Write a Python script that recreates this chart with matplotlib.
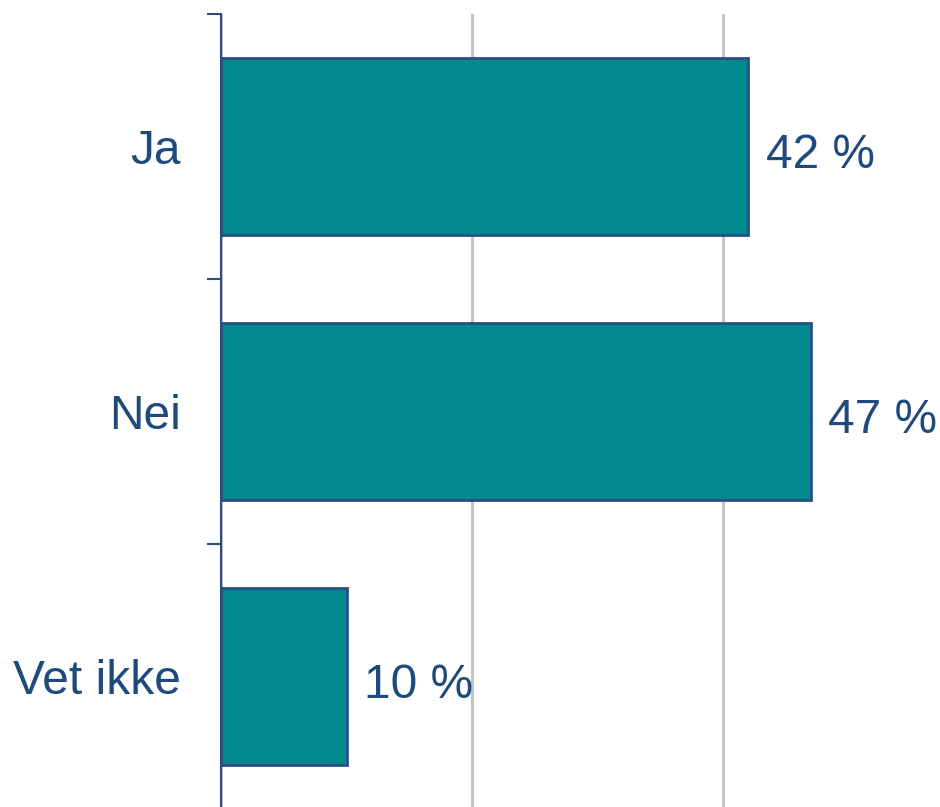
import numpy as np
import matplotlib
matplotlib.use('Agg')
import matplotlib.pyplot as plt
from matplotlib.ticker import FixedLocator

categories = ['Ja', 'Nei', 'Vet ikke']
values = [42, 47, 10]
value_labels = ['42 %', '47 %', '10 %']

plt.rcParams['font.family'] = ['Liberation Sans', 'DejaVu Sans']

text_color = '#1F4A7C'
bar_color = '#008A8F'
edge_color = '#2A4F80'

fig = plt.figure(figsize=(9.4, 8.07), dpi=100)
ax = fig.add_axes([221/940, -2/807, 719/940, 795/807])

y = np.arange(len(categories))
ax.barh(y, values, height=0.67, color=bar_color, edgecolor=edge_color,
        linewidth=2, zorder=3)

for yi, v, lab in zip(y, values, value_labels):
    ax.text(v + 1.4, yi + 0.015, lab, va='center_baseline', ha='left',
            fontsize=34.5, color=text_color)

ax.set_xlim(0, 719/12.55)
ax.set_ylim(2.5, -0.5)

ax.set_xticks([0, 20, 40])
ax.xaxis.grid(True, color='#C4C4C4', linewidth=2.2, zorder=0)
ax.tick_params(axis='x', length=0, labelbottom=False)

ax.set_yticks(y)
ax.set_yticklabels(categories, fontsize=34.5, color=text_color,
                   va='center_baseline')
ax.yaxis.set_minor_locator(FixedLocator([-0.5, 0.5, 1.5, 2.5]))
ax.tick_params(axis='y', which='major', length=0, pad=29)
ax.tick_params(axis='y', which='minor', length=10, width=1.5,
               color=edge_color, direction='out')

for s in ['top', 'right', 'bottom']:
    ax.spines[s].set_visible(False)
ax.spines['left'].set_color(edge_color)
ax.spines['left'].set_linewidth(1.5)
ax.spines['left'].set_zorder(4)

plt.savefig('out.png', dpi=100)
